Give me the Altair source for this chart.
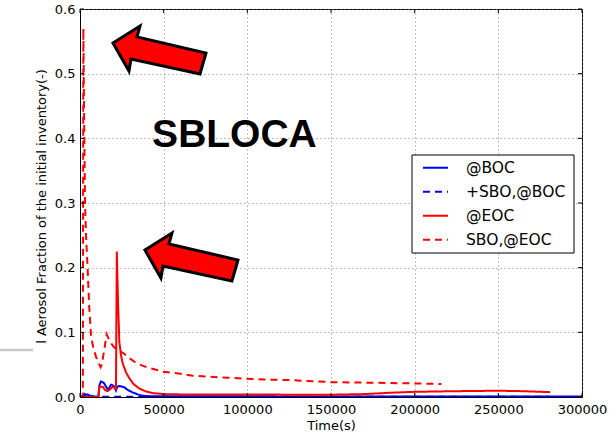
import altair as alt
import pandas as pd

# ---- series (time in s, aerosol fraction of initial inventory) ----
series_names = ["@BOC", "+SBO,@BOC", "@EOC", "SBO,@EOC"]
series_colors = ["#0000ff", "#0000ff", "#ff0000", "#ff0000"]
series_dashes = [[1, 0], [7, 5], [1, 0], [7, 5]]

boc_t = [0, 2000, 3000, 4500, 6000, 8000, 11000, 11600, 12500, 13500, 14500,
         15500, 16500, 17500, 18500, 19500, 20500, 21500, 22300, 23500, 25000,
         26500, 28500, 31500, 34500, 37500, 42000, 50000, 100000, 200000, 300000]
boc_v = [0, 0.001, 0.003, 0.004, 0.002, 0.0005, 0.0005, 0.018, 0.024, 0.023, 0.021,
         0.016, 0.012, 0.014, 0.019, 0.018, 0.016, 0.010, 0.016, 0.017, 0.016,
         0.015, 0.011, 0.007, 0.004, 0.002, 0.0012, 0.001, 0.001, 0.0008, 0.0008]

sbo_boc_t = [0, 1800, 2500, 4000, 6000, 7500, 9000, 20000, 40000, 100000, 200000, 281000]
sbo_boc_v = [0, 0.002, 0.005, 0.004, 0.003, 0.001, 0.0005, 0.0005, 0.0004, 0.0003, 0.0002, 0.0002]

eoc_t = [0, 11000, 11600, 13500, 15000, 16500, 18000, 19500, 21100, 21500, 22000,
         22700, 23500, 24500, 25500, 27500, 29500, 32000, 35500, 39000, 43400,
         50000, 60000, 80000, 100000, 130000, 150000, 170000, 185000, 200000,
         225000, 250000, 265000, 281000]
eoc_v = [0, 0, 0.016, 0.016, 0.011, 0.009, 0.012, 0.0155, 0.014, 0.013, 0.225,
         0.15, 0.085, 0.065, 0.052, 0.038, 0.029, 0.020, 0.013, 0.009, 0.006,
         0.0045, 0.004, 0.004, 0.004, 0.0035, 0.0035, 0.0045, 0.0065, 0.008,
         0.009, 0.0097, 0.009, 0.0075]

sbo_eoc_t = [0, 1700, 2000, 2500, 3000, 3600, 4600, 5500, 6600, 8000, 9600, 11000,
             12300, 13000, 14500, 15900, 17900, 20000, 21900, 23500, 25900, 29000,
             33900, 40000, 49800, 60000, 67600, 80000, 94500, 110000, 127000,
             150000, 175000, 200000, 216000]
sbo_eoc_v = [0, 0, 0.57, 0.42, 0.30, 0.25, 0.196, 0.14, 0.095, 0.075, 0.062, 0.053,
             0.046, 0.050, 0.073, 0.097, 0.086, 0.078, 0.074, 0.071, 0.068, 0.061,
             0.052, 0.046, 0.039, 0.036, 0.033, 0.031, 0.029, 0.027, 0.026,
             0.023, 0.022, 0.021, 0.020]

x_ticks = [0, 50000, 100000, 150000, 200000, 250000, 300000]
y_ticks = [0.0, 0.1, 0.2, 0.3, 0.4, 0.5, 0.6]

# annotation anchors (data coordinates)
arrow_t = [47800, 66900]
arrow_v = [0.5366, 0.2165]
label_text = ["SBLOCA"]
label_t = [92300]
label_v = [0.387]

W, H = 502, 388

rows = []
for name, ts, vs in [("@BOC", boc_t, boc_v), ("+SBO,@BOC", sbo_boc_t, sbo_boc_v),
                     ("@EOC", eoc_t, eoc_v), ("SBO,@EOC", sbo_eoc_t, sbo_eoc_v)]:
    for t, v in zip(ts, vs):
        rows.append({"series": name, "t": t, "v": v})
df = pd.DataFrame(rows)

x_scale = alt.Scale(domain=[0, 300000], nice=False, zero=False)
y_scale = alt.Scale(domain=[0, 0.6], nice=False, zero=False)

x_axis = alt.Axis(values=x_ticks, format="d", title="Time(s)", grid=True,
                  ticks=False, labelFlush=False, labelOverlap=False,
                  labelPadding=6, titlePadding=3)
y_axis = alt.Axis(values=y_ticks, format=".1f",
                  title="l Aerosol Fraction of the initial inventory(-)",
                  grid=True, ticks=False, labelPadding=5,
                  titleAngle=270, titleX=-39, titleY=197,
                  titleAlign="center", titleBaseline="middle")

# legend entries; the framed box behind them is drawn as its own layer
legend = alt.Legend(title=None, orient="none", legendX=342, legendY=147,
                    padding=0, symbolType="stroke", symbolSize=625,
                    symbolStrokeWidth=2, labelOffset=17, rowPadding=0,
                    clipHeight=23.7, labelFontSize=15.5, labelFont="DejaVu Sans",
                    labelColor="black", labelLimit=300)

lines = alt.Chart(df).mark_line(strokeWidth=2, clip=True).encode(
    x=alt.X("t:Q", scale=x_scale, axis=x_axis),
    y=alt.Y("v:Q", scale=y_scale, axis=y_axis),
    color=alt.Color("series:N",
                    scale=alt.Scale(domain=series_names, range=series_colors),
                    legend=legend),
    strokeDash=alt.StrokeDash("series:N",
                              scale=alt.Scale(domain=series_names, range=series_dashes),
                              legend=legend),
)

legend_box = alt.Chart(pd.DataFrame({"k": [0]})).mark_rect(
    fill="white", stroke="black", strokeWidth=1
).encode(x=alt.value(332), x2=alt.value(494), y=alt.value(146), y2=alt.value(244))

# inward tick marks on all four sides
xt = pd.DataFrame({"t": x_ticks})
yt = pd.DataFrame({"v": y_ticks})
tick_style = dict(color="black", strokeWidth=1)
ticks_bottom = alt.Chart(xt).mark_rule(**tick_style).encode(
    x=alt.X("t:Q", scale=x_scale), y=alt.value(H), y2=alt.value(H - 4))
ticks_top = alt.Chart(xt).mark_rule(**tick_style).encode(
    x=alt.X("t:Q", scale=x_scale), y=alt.value(0), y2=alt.value(4))
ticks_left = alt.Chart(yt).mark_rule(**tick_style).encode(
    y=alt.Y("v:Q", scale=y_scale), x=alt.value(0), x2=alt.value(4))
ticks_right = alt.Chart(yt).mark_rule(**tick_style).encode(
    y=alt.Y("v:Q", scale=y_scale), x=alt.value(W), x2=alt.value(W - 4))

# block arrows (custom symbol path, unit box scaled by sqrt(size)/2 = 50 px)
arrow_pts = [(-47, -7), (-20, -24), (-23, -13), (46, 3), (40, 24), (-29, 9), (-31, 21)]
arrow_path = "M" + " L".join(f"{x / 50:.3f},{y / 50:.3f}" for x, y in arrow_pts) + " Z"
arrows = alt.Chart(pd.DataFrame({"t": arrow_t, "v": arrow_v})).mark_point(
    shape=arrow_path, size=10000, filled=True, fill="#ff0000", fillOpacity=1,
    stroke="black", strokeWidth=3, opacity=1, strokeJoin="miter"
).encode(x=alt.X("t:Q", scale=x_scale), y=alt.Y("v:Q", scale=y_scale))

label = alt.Chart(pd.DataFrame({"t": label_t, "v": label_v, "txt": label_text})).mark_text(
    font="Liberation Sans", fontWeight="bold", fontSize=39, color="black",
    align="center", baseline="alphabetic"
).encode(x=alt.X("t:Q", scale=x_scale), y=alt.Y("v:Q", scale=y_scale), text="txt:N")

# thin grey page rule at the far left
page_rule = alt.Chart(pd.DataFrame({"k": [0]})).mark_rule(
    color="#c8c8c8", strokeWidth=2.5, clip=False
).encode(x=alt.value(-80), x2=alt.value(-47), y=alt.value(341))

chart = alt.layer(
    lines, ticks_bottom, ticks_top, ticks_left, ticks_right, legend_box,
    arrows, label, page_rule
).properties(
    width=W, height=H,
    background="white",
    autosize=alt.AutoSizeParams(type="none"),
    padding={"left": 80, "top": 9, "right": 34, "bottom": 40},
).configure_view(
    stroke="black", strokeWidth=1
).configure_axis(
    domainColor="black", domainWidth=1,
    gridColor="#808080", gridDash=[1, 3], gridWidth=1, gridOpacity=1,
    labelFont="DejaVu Sans", labelFontSize=13, labelColor="black",
    titleFont="DejaVu Sans", titleFontSize=13, titleColor="black",
    titleFontWeight="normal",
)

chart.save("out.html", embed_options={"renderer": "svg", "actions": False})
